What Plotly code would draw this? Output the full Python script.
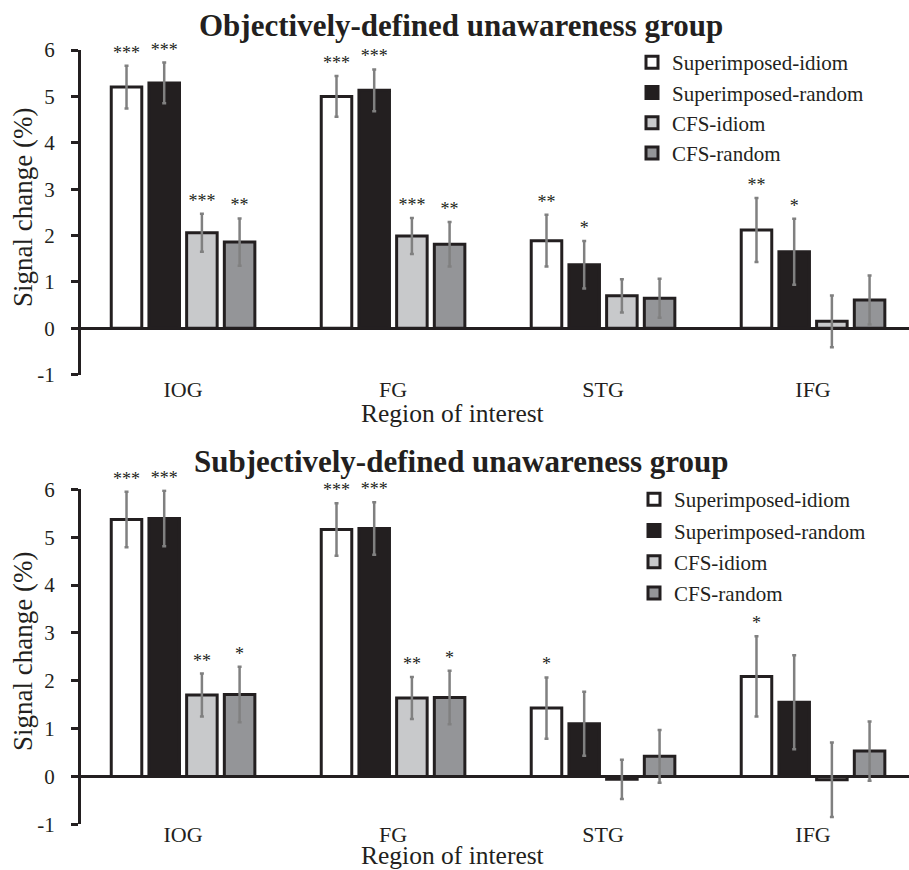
import plotly.graph_objects as go

regions = ["IOG", "FG", "STG", "IFG"]
conditions = ["Superimposed-idiom", "Superimposed-random", "CFS-idiom", "CFS-random"]

# Objectively-defined unawareness group
obj_sup_idiom = [5.20, 5.00, 1.89, 2.12]
obj_sup_random = [5.29, 5.13, 1.37, 1.65]
obj_cfs_idiom = [2.06, 1.99, 0.70, 0.15]
obj_cfs_random = [1.86, 1.81, 0.65, 0.61]
obj_sup_idiom_err = [0.46, 0.44, 0.56, 0.69]
obj_sup_random_err = [0.44, 0.45, 0.51, 0.71]
obj_cfs_idiom_err = [0.41, 0.39, 0.36, 0.56]
obj_cfs_random_err = [0.51, 0.48, 0.42, 0.53]
obj_sup_idiom_sig = ["***", "***", "**", "**"]
obj_sup_random_sig = ["***", "***", "*", "*"]
obj_cfs_idiom_sig = ["***", "***", "", ""]
obj_cfs_random_sig = ["**", "**", "", ""]

# Subjectively-defined unawareness group
subj_sup_idiom = [5.37, 5.16, 1.43, 2.09]
subj_sup_random = [5.39, 5.18, 1.10, 1.55]
subj_cfs_idiom = [1.70, 1.64, -0.06, -0.07]
subj_cfs_random = [1.71, 1.65, 0.42, 0.53]
subj_sup_idiom_err = [0.58, 0.55, 0.64, 0.84]
subj_sup_random_err = [0.58, 0.55, 0.67, 0.98]
subj_cfs_idiom_err = [0.45, 0.44, 0.41, 0.78]
subj_cfs_random_err = [0.58, 0.56, 0.55, 0.62]
subj_sup_idiom_sig = ["***", "***", "*", "*"]
subj_sup_random_sig = ["***", "***", "", ""]
subj_cfs_idiom_sig = ["**", "**", "", ""]
subj_cfs_random_sig = ["*", "*", "", ""]

panel_titles = ["Objectively-defined unawareness group", "Subjectively-defined unawareness group"]
y_ticks = [-1, 0, 1, 2, 3, 4, 5, 6]
y_ticktext = [str(v) for v in y_ticks]

FONT = "Liberation Serif, Times New Roman, serif"
INK = "#231f20"
fills = ["#ffffff", "#231f20", "#c8c9cb", "#949598"]
ERR = "#808080"

W, H = 909, 870
ML = 81

def px_x(p):
    return (p - ML) / (W - ML)

def px_y(p):
    return 1 - p / H

panels = [
    dict(means=[obj_sup_idiom, obj_sup_random, obj_cfs_idiom, obj_cfs_random],
         errs=[obj_sup_idiom_err, obj_sup_random_err, obj_cfs_idiom_err, obj_cfs_random_err],
         sigs=[obj_sup_idiom_sig, obj_sup_random_sig, obj_cfs_idiom_sig, obj_cfs_random_sig],
         xa="x", ya="y", legend="legend"),
    dict(means=[subj_sup_idiom, subj_sup_random, subj_cfs_idiom, subj_cfs_random],
         errs=[subj_sup_idiom_err, subj_sup_random_err, subj_cfs_idiom_err, subj_cfs_random_err],
         sigs=[subj_sup_idiom_sig, subj_sup_random_sig, subj_cfs_idiom_sig, subj_cfs_random_sig],
         xa="x2", ya="y2", legend="legend2"),
]

fig = go.Figure()
for pi, p in enumerate(panels):
    for ci, cond in enumerate(conditions):
        og = f"p{pi}c{ci}"
        fig.add_trace(go.Bar(
            x=regions, y=p["means"][ci], name=cond,
            xaxis=p["xa"], yaxis=p["ya"], legend=p["legend"],
            legendgroup=og, offsetgroup=og,
            marker=dict(color=fills[ci], line=dict(color=INK, width=3)),
            error_y=dict(type="data", array=p["errs"][ci], color=ERR, thickness=2.5, width=2),
        ))
    for ci, cond in enumerate(conditions):
        og = f"p{pi}c{ci}"
        tops = [m + e for m, e in zip(p["means"][ci], p["errs"][ci])]
        fig.add_trace(go.Bar(
            x=regions, y=tops, name=cond, showlegend=False,
            xaxis=p["xa"], yaxis=p["ya"], offsetgroup=og,
            marker=dict(color="rgba(0,0,0,0)", line=dict(width=0)),
            text=p["sigs"][ci], textposition="outside", constraintext="none",
            textfont=dict(family=FONT, size=18, color=INK),
            cliponaxis=False, hoverinfo="skip",
        ))

yaxis_common = dict(range=[-1, 6], tickvals=y_ticks, ticktext=y_ticktext, showgrid=False,
                    showline=True, linecolor=INK, linewidth=3,
                    ticks="outside", ticklen=7, tickwidth=3, tickcolor=INK,
                    ticklabelstandoff=12,
                    zeroline=True, zerolinecolor=INK, zerolinewidth=3,
                    tickfont=dict(family=FONT, size=21, color=INK))
xaxis_common = dict(range=[-0.486, 3.457], showgrid=False, showline=False,
                    ticks="", zeroline=False,
                    tickfont=dict(family=FONT, size=22, color=INK))

legend_common = dict(font=dict(family=FONT, size=21, color=INK),
                     bgcolor="rgba(0,0,0,0)", traceorder="grouped",
                     xanchor="left", yanchor="top", itemclick=False)

fig.update_layout(
    width=W, height=H,
    margin=dict(l=ML, r=0, t=0, b=0, autoexpand=False),
    paper_bgcolor="white", plot_bgcolor="white",
    barmode="group", bargap=0.282, bargroupgap=0.19,
    showlegend=True,
    xaxis=dict(domain=[0, 1], anchor="y", ticklabelstandoff=-1, **xaxis_common),
    yaxis=dict(domain=[px_y(374.7), px_y(50)], anchor="x", **yaxis_common),
    xaxis2=dict(domain=[0, 1], anchor="y2", ticklabelstandoff=-5, **xaxis_common),
    yaxis2=dict(domain=[px_y(824.3), px_y(489.3)], anchor="x2", **yaxis_common),
    legend=dict(x=px_x(632), y=px_y(42), tracegroupgap=0, **legend_common),
    legend2=dict(x=px_x(634), y=px_y(479), tracegroupgap=1, **legend_common),
)

ann = []
for title, ty in zip(panel_titles, [25, 462]):
    ann.append(dict(text=f"<b>{title}</b>", x=px_x(461), y=px_y(ty), xref="paper", yref="paper",
                    showarrow=False, xanchor="center", yanchor="middle",
                    font=dict(family=FONT, size=31, color=INK)))
for ty in [208, 652]:
    ann.append(dict(text="Signal change (%)", x=px_x(23), y=px_y(ty), xref="paper", yref="paper",
                    showarrow=False, textangle=-90, xanchor="center", yanchor="middle",
                    font=dict(family=FONT, size=27, color=INK)))
for ty in [413, 855]:
    ann.append(dict(text="Region of interest", x=px_x(452), y=px_y(ty), xref="paper", yref="paper",
                    showarrow=False, xanchor="center", yanchor="middle",
                    font=dict(family=FONT, size=25.5, color=INK)))
fig.update_layout(annotations=ann)

fig.write_html("out.html", config={"displayModeBar": False},
               post_script="document.body.style.margin='0px';")
